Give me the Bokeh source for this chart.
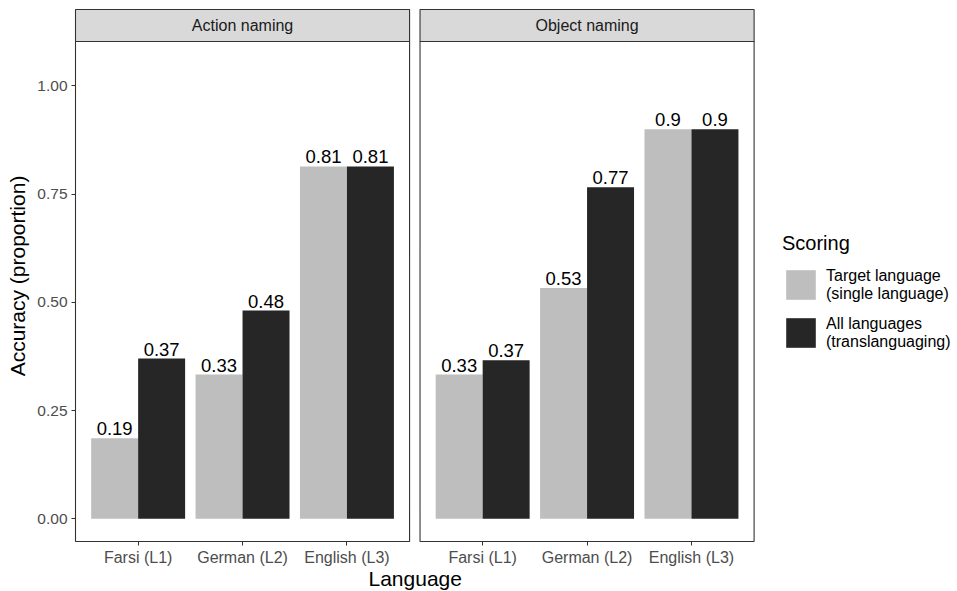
from bokeh.plotting import figure
from bokeh.models import (ColumnDataSource, Range1d, FixedTicker, NumeralTickFormatter,
                          Legend, LegendItem, Title)
from bokeh.transform import dodge
from bokeh.embed import file_html
from bokeh.resources import INLINE
from bokeh.core.properties import value

# ---------------- data ----------------
languages = ["Farsi (L1)", "German (L2)", "English (L3)"]
tasks = ["Action naming", "Object naming"]
scoring = ["Target language\n(single language)", "All languages\n(translanguaging)"]

target_action = [0.186, 0.333, 0.814]
all_action = [0.370, 0.481, 0.814]
target_object = [0.333, 0.533, 0.900]
all_object = [0.366, 0.766, 0.900]

# ---------------- style / layout constants ----------------
FONT = "Liberation Sans"
LIGHT = "#bebebe"
DARK = "#262626"
BORDER = "#333333"
STRIP_FILL = "#d9d9d9"

W, H = 957, 591
LEFT, TOP, BOTTOM = 73, 8, 48
PANEL_OFFSET = [0.0, 3.3]       # x offset of each facet panel
X_EXPAND = 0.6                  # ggplot discrete expansion
BAR_W = 0.45
Y_LO, Y_HI = -0.0525, 1.1025    # ggplot limits (0, 1.05) with 5% expansion
PX_PER_Y = 432.9
PX_PER_X = 104.4
STRIP_H = 32 / PX_PER_Y
PAD_X = 2 / PX_PER_X

PANELS_LO = PANEL_OFFSET[0] - X_EXPAND
PANELS_HI = PANEL_OFFSET[1] + len(languages) - 1 + X_EXPAND
X0 = PANELS_LO - PAD_X
X1 = X0 + (W - LEFT) / PX_PER_X          # frame continues under the legend area
Y0 = Y_LO - 2 / PX_PER_Y
Y1 = Y_HI + STRIP_H + 1 / PX_PER_Y

def fmt(v):
    return f"{round(v, 2):g}"

xs, tgt, alls = [], [], []
for t, (tv, av) in enumerate([(target_action, all_action), (target_object, all_object)]):
    for i in range(len(languages)):
        xs.append(PANEL_OFFSET[t] + i)
        tgt.append(tv[i])
        alls.append(av[i])

src = ColumnDataSource(dict(
    x=xs, target=tgt, alls=alls,
    target_lbl=[fmt(v) for v in tgt], alls_lbl=[fmt(v) for v in alls],
))

p = figure(width=W, height=H, output_backend="svg", toolbar_location=None,
           x_range=Range1d(X0, X1), y_range=Range1d(Y0, Y1),
           min_border_left=LEFT, min_border_right=0, min_border_top=TOP,
           min_border_bottom=BOTTOM)
p.outline_line_color = None
p.grid.visible = False
p.background_fill_color = "white"
p.border_fill_color = "white"

r_t = p.vbar(x=dodge("x", -BAR_W / 2), top="target", width=BAR_W, source=src,
             fill_color=LIGHT, line_color=None)
r_a = p.vbar(x=dodge("x", BAR_W / 2), top="alls", width=BAR_W, source=src,
             fill_color=DARK, line_color=None)

for col, off in (("target", -BAR_W / 2), ("alls", BAR_W / 2)):
    p.text(x=dodge("x", off), y=col, text=col + "_lbl", source=src,
           text_align="center", text_baseline="bottom", y_offset=-3,
           text_font=value(FONT), text_font_size="18.5px", text_color="black")

# panel borders and strips
pan_src = ColumnDataSource(dict(
    left=[o - X_EXPAND for o in PANEL_OFFSET],
    right=[o + len(languages) - 1 + X_EXPAND for o in PANEL_OFFSET],
    mid=[o + (len(languages) - 1) / 2 for o in PANEL_OFFSET],
    bottom=[Y_LO] * 2, top=[Y_HI] * 2,
    stop=[Y_HI + STRIP_H] * 2, smid=[Y_HI + STRIP_H / 2] * 2,
    name=tasks,
))
p.quad(left="left", right="right", bottom="bottom", top="top", source=pan_src,
       fill_color=None, line_color=BORDER, line_width=1.1)
p.quad(left="left", right="right", bottom="top", top="stop", source=pan_src,
       fill_color=STRIP_FILL, line_color=BORDER, line_width=1.1)
p.text(x="mid", y="smid", text="name", source=pan_src, text_align="center",
       text_baseline="middle", text_font=value(FONT), text_font_size="16px",
       text_color="#1a1a1a")

# axes
y_ticks = [0.0, 0.25, 0.5, 0.75, 1.0]
p.yaxis.ticker = FixedTicker(ticks=y_ticks)
p.yaxis.formatter = NumeralTickFormatter(format="0.00")
p.xaxis.ticker = FixedTicker(ticks=xs)
p.xaxis.major_label_overrides = {x: languages[i % len(languages)] for i, x in enumerate(xs)}

for ax in (p.xaxis[0], p.yaxis[0]):
    ax.axis_line_color = None
    ax.major_tick_line_color = BORDER
    ax.major_tick_in = 2
    ax.major_tick_out = 2
    ax.minor_tick_line_color = None
    ax.major_label_text_font = FONT
    ax.major_label_text_color = "#4d4d4d"
    ax.axis_label_text_font = FONT
    ax.axis_label_text_font_style = "normal"
    ax.axis_label_text_font_size = "21px"
    ax.axis_label_text_color = "black"

p.yaxis.major_label_text_font_size = "15.5px"
p.yaxis.major_label_standoff = 4
p.yaxis.axis_label = "Accuracy (proportion)"
p.yaxis.axis_label_standoff = 5
p.xaxis.major_label_text_font_size = "16px"
p.xaxis.major_label_standoff = 3

# x-axis title centred under the two panels (frame also spans the legend area)
p.add_layout(Title(text="Language", align="left", offset=295, standoff=-6,
                   vertical_align="middle",
                   text_font=FONT, text_font_size="21px", text_font_style="normal",
                   text_color="black"), "below")

legend = Legend(
    items=[LegendItem(label=scoring[0], renderers=[r_t]),
           LegendItem(label=scoring[1], renderers=[r_a])],
    title="Scoring", location=(709, 192),
    title_text_font=FONT, title_text_font_size="20px", title_text_font_style="normal",
    title_text_color="black", title_standoff=11,
    label_text_font=FONT, label_text_font_size="16px", label_text_color="black",
    label_text_line_height=0.95,
    label_standoff=7, glyph_width=37, glyph_height=37, spacing=11,
    padding=0, margin=0, border_line_color=None, background_fill_alpha=0,
)
p.add_layout(legend, "center")

open("out.html", "w").write(file_html(p, INLINE))
